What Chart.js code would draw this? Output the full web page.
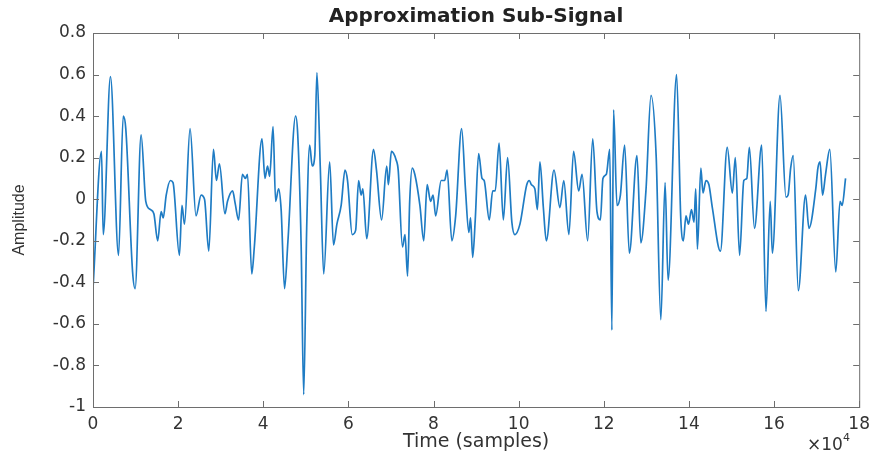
<!DOCTYPE html>
<html>
<head>
<meta charset="utf-8">
<title>Approximation Sub-Signal</title>
<script src="https://cdn.jsdelivr.net/npm/chart.js@4.4.1/dist/chart.umd.min.js"></script>
<style>
  html, body { margin: 0; padding: 0; background: #fff; }
  canvas { display: block; }
</style>
</head>
<body>
<canvas id="signal-chart" width="877" height="457"></canvas>
<script>
// time axis in units of 10^4 samples
const timeX = [
  0.0, 0.2, 0.24, 0.41, 0.6, 0.71, 0.77, 0.93, 0.99, 1.13,
  1.24, 1.35, 1.43, 1.52, 1.60, 1.65, 1.72, 1.82, 1.88, 2.03,
  2.09, 2.15, 2.28, 2.42, 2.54, 2.62, 2.72, 2.83, 2.90, 2.97,
  3.10, 3.16, 3.28, 3.34, 3.42, 3.51, 3.58, 3.63, 3.73, 3.79,
  3.97, 4.04, 4.10, 4.15, 4.23, 4.29, 4.36, 4.42, 4.50, 4.58,
  4.76, 4.81, 4.89, 4.95, 5.02, 5.09, 5.15, 5.21, 5.26, 5.34,
  5.42, 5.56, 5.65, 5.73, 5.83, 5.92, 5.98, 6.09, 6.17, 6.24,
  6.30, 6.34, 6.43, 6.59, 6.66, 6.78, 6.90, 6.94, 7.01, 7.12,
  7.17, 7.27, 7.33, 7.39, 7.44, 7.50, 7.56, 7.68, 7.77, 7.85,
  7.93, 7.99, 8.05, 8.18, 8.26, 8.32, 8.43, 8.52, 8.66, 8.75,
  8.83, 8.87, 8.92, 8.98, 9.06, 9.14, 9.19, 9.31, 9.39, 9.45,
  9.54, 9.64, 9.74, 9.84, 9.91, 10.03, 10.19, 10.25, 10.30, 10.38,
  10.44, 10.50, 10.58, 10.65, 10.83, 10.97, 11.06, 11.18, 11.29, 11.41,
  11.49, 11.62, 11.74, 11.84, 11.92, 11.98, 12.06, 12.14, 12.19, 12.23,
  12.31, 12.39, 12.49, 12.60, 12.78, 12.87, 12.99, 13.11, 13.23, 13.34,
  13.44, 13.51, 13.71, 13.81, 13.87, 13.93, 13.99, 14.06, 14.12, 14.16,
  14.20, 14.28, 14.33, 14.40, 14.47, 14.55, 14.74, 14.90, 15.02, 15.09,
  15.19, 15.29, 15.36, 15.42, 15.54, 15.71, 15.81, 15.91, 15.96, 16.14,
  16.28, 16.33, 16.39, 16.45, 16.57, 16.74, 16.82, 16.98, 17.03, 17.08,
  17.14, 17.21, 17.31, 17.45, 17.55, 17.60, 17.68
];

const amplitude = [
  -0.43, 0.23, -0.17, 0.59, -0.27, 0.40, 0.34, -0.35, -0.43, 0.31,
  -0.01, -0.05, -0.07, -0.20, -0.06, -0.09, 0.02, 0.09, 0.08, -0.27,
  -0.03, -0.12, 0.34, -0.08, 0.02, 0.00, -0.25, 0.24, 0.09, 0.17,
  -0.07, -0.01, 0.04, -0.02, -0.10, 0.12, 0.10, 0.12, -0.36, -0.23,
  0.29, 0.10, 0.16, 0.11, 0.35, -0.01, 0.05, -0.05, -0.43, -0.20,
  0.40, 0.31, -0.22, -0.94, -0.14, 0.26, 0.16, 0.21, 0.61, 0.15,
  -0.36, 0.18, -0.22, -0.12, -0.03, 0.14, 0.09, -0.17, -0.15, 0.09,
  0.02, 0.05, -0.19, 0.24, 0.14, -0.10, 0.16, 0.07, 0.23, 0.19,
  0.14, -0.23, -0.17, -0.37, -0.01, 0.15, 0.12, -0.03, -0.20, 0.07,
  -0.01, 0.02, -0.08, 0.09, 0.09, 0.14, -0.20, -0.08, 0.34, 0.05,
  -0.16, -0.09, -0.28, -0.10, 0.22, 0.10, 0.09, -0.10, 0.04, 0.04,
  0.27, -0.10, 0.20, -0.11, -0.17, -0.12, 0.07, 0.09, 0.07, 0.05,
  -0.05, 0.18, -0.04, -0.20, 0.14, -0.04, 0.09, -0.17, 0.23, 0.04,
  0.12, -0.20, 0.29, -0.06, -0.10, 0.10, 0.12, 0.24, -0.63, 0.43,
  -0.03, 0.02, 0.26, -0.26, 0.21, -0.21, 0.04, 0.50, 0.21, -0.58,
  0.08, -0.39, 0.60, -0.10, -0.20, -0.08, -0.12, -0.05, -0.11, 0.05,
  -0.24, 0.15, 0.03, 0.09, 0.07, -0.04, -0.25, 0.25, 0.03, 0.20,
  -0.27, 0.09, 0.10, 0.25, -0.14, 0.26, -0.54, -0.01, -0.26, 0.50,
  0.01, 0.02, 0.15, 0.21, -0.44, 0.02, -0.14, 0.05, 0.15, 0.18,
  0.02, 0.12, 0.24, -0.35, -0.01, -0.03, 0.10
];

const xTicks = [0, 2, 4, 6, 8, 10, 12, 14, 16, 18];
const yTicks = [-1, -0.8, -0.6, -0.4, -0.2, 0, 0.2, 0.4, 0.6, 0.8];

const textColor = '#333333';
const boxColor = '#6e6e6e';

// MATLAB style box with inward ticks + the x10^4 exponent label
const boxPlugin = {
  id: 'matlabBox',
  afterDraw(chart) {
    const { ctx, chartArea: a, scales } = chart;
    const len = 6;
    ctx.save();
    ctx.strokeStyle = boxColor;
    ctx.lineWidth = 1;
    ctx.strokeRect(a.left + 0.5, a.top + 0.5, a.right - a.left, a.bottom - a.top);
    ctx.beginPath();
    xTicks.forEach(v => {
      const px = Math.round(scales.x.getPixelForValue(v)) + 0.5;
      ctx.moveTo(px, a.bottom); ctx.lineTo(px, a.bottom - len);
      ctx.moveTo(px, a.top); ctx.lineTo(px, a.top + len);
    });
    yTicks.forEach(v => {
      const py = Math.round(scales.y.getPixelForValue(v)) + 0.5;
      ctx.moveTo(a.left, py); ctx.lineTo(a.left + len, py);
      ctx.moveTo(a.right, py); ctx.lineTo(a.right - len, py);
    });
    ctx.stroke();

    ctx.fillStyle = textColor;
    ctx.textAlign = 'left';
    ctx.textBaseline = 'alphabetic';
    ctx.font = '17px "DejaVu Sans"';
    ctx.fillText('×10', 807, 450);
    const w = ctx.measureText('×10').width;
    ctx.font = '11px "DejaVu Sans"';
    ctx.fillText('4', 807 + w, 441);
    ctx.restore();
  }
};

new Chart(document.getElementById('signal-chart'), {
  type: 'line',
  data: {
    datasets: [{
      label: 'Approximation',
      data: timeX.map((t, i) => ({ x: t, y: amplitude[i] })),
      borderColor: '#1f7cc4',
      borderWidth: 1.7,
      pointRadius: 0,
      fill: false,
      cubicInterpolationMode: 'monotone'
    }]
  },
  options: {
    responsive: false,
    animation: false,
    layout: { padding: { left: 0, right: 16, top: 0, bottom: 0 } },
    plugins: {
      legend: { display: false },
      tooltip: { enabled: false },
      title: { display: false }
    },
    scales: {
      // top axis only carries the title so it centres over the plot box
      top: {
        type: 'linear',
        position: 'top',
        min: 0,
        max: 18,
        afterFit(scale) { scale.height = 33; },
        grid: { display: false, drawTicks: false },
        border: { display: false },
        ticks: { display: false },
        title: {
          display: true,
          text: 'Approximation Sub-Signal',
          color: '#222222',
          font: { family: '"DejaVu Sans"', size: 20, weight: 'bold', lineHeight: 1.2 },
          padding: { top: 5, bottom: 0 }
        }
      },
      x: {
        type: 'linear',
        position: 'bottom',
        min: 0,
        max: 18,
        afterFit(scale) { scale.height = 50; },
        afterBuildTicks(scale) { scale.ticks = xTicks.map(v => ({ value: v })); },
        grid: { display: false, drawTicks: false },
        border: { display: false },
        ticks: {
          autoSkip: false,
          maxRotation: 0,
          padding: 7,
          color: textColor,
          font: { family: '"DejaVu Sans"', size: 17 },
          callback: v => String(v)
        },
        title: {
          display: true,
          text: 'Time (samples)',
          color: textColor,
          font: { family: '"DejaVu Sans"', size: 19, lineHeight: 1.2 },
          padding: { top: 0, bottom: 4 }
        }
      },
      y: {
        type: 'linear',
        min: -1,
        max: 0.8,
        afterFit(scale) { scale.width = 93; },
        afterBuildTicks(scale) { scale.ticks = yTicks.map(v => ({ value: v })); },
        grid: { display: false, drawTicks: false },
        border: { display: false },
        ticks: {
          autoSkip: false,
          padding: 7,
          color: textColor,
          font: { family: '"DejaVu Sans"', size: 17 },
          callback: v => String(Number(v.toFixed(1)))
        },
        title: {
          display: true,
          text: 'Amplitude',
          color: textColor,
          font: { family: '"Liberation Sans"', size: 16, lineHeight: 1.2 },
          padding: { top: 10, bottom: 0 }
        }
      }
    }
  },
  plugins: [boxPlugin]
});
</script>
</body>
</html>
